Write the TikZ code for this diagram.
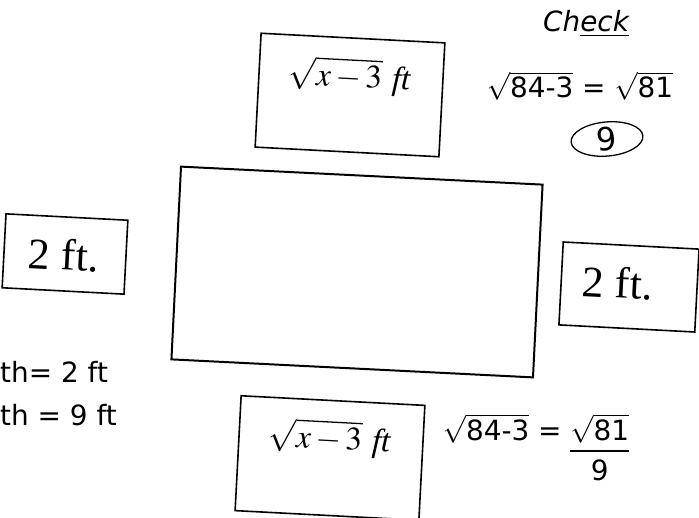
\documentclass[tikz,border=0pt]{standalone}
\usepackage{mathptmx}
\usepackage{fontspec}
\setmainfont{Liberation Serif}
\newfontfamily\handfont{DejaVu Sans}
\usetikzlibrary{shapes.geometric}
\newcommand{\hw}[1]{\hbox{#1}}

\begin{document}
\begin{tikzpicture}[x=1bp,y=-1bp,
  % Box styles
  side/.style={
    draw=black,
    line width=1.6pt,
    inner sep=0pt,
    rotate=-3,
  },
  plot/.style={
    draw=black,
    line width=2pt,
    inner sep=0pt,
    rotate=-2.85,
  },
  % Text styles
  measure/.style={font=\fontsize{44}{48}\selectfont, inner sep=0pt, rotate=-3},
  root/.style={font=\fontsize{33}{38}\selectfont, inner sep=0pt, rotate=-3},
  hand/.style={font=\handfont\fontsize{28}{32}\selectfont, inner sep=0pt},
]
  \useasboundingbox (0,0) rectangle (699,518);

  % Garden plot
  \node[plot, minimum width=362bp, minimum height=193bp] (garden) at (357,272) {};

  % Sides: top and bottom
  \node[side, minimum width=184bp, minimum height=114bp] (top side) at (350,95) {};
  \node[root] (top label) at (350,76) {$\sqrt{x-3}$\hspace{10bp}\textit{ft}};
  \node[side, minimum width=184bp, minimum height=115bp] (bottom side) at (330,458) {};
  \node[root] (bottom label) at (330,438) {$\sqrt{x-3}$\hspace{10bp}\textit{ft}};

  % Sides: left and right
  \node[side, minimum width=122bp, minimum height=74bp] (left side) at (65,254) {};
  \node[measure] (left label) at (64,255) {2 ft.};
  \node[side, minimum width=136bp, minimum height=83bp] (right side) at (629,287) {};
  \node[measure] (right label) at (618,283) {2 ft.};

  % Check
  \node[hand, font={\handfont\itshape\fontsize{28}{32}\selectfont}] (check) at (586,24) {Ch\underline{eck}};
  \node[hand] (top check) at (580,86) {$\sqrt{\hw{84-3}}$ = $\sqrt{\hw{81}}$};
  \node[hand, draw, ellipse, line width=1.3pt, minimum width=72bp, minimum height=34bp,
        rotate=5, font={\handfont\fontsize{32}{34}\selectfont}] (nine) at (607,139) {9};
  \node[hand] (bottom check) at (536,452) {\setlength\arrayrulewidth{1.5pt}%
    \begin{tabular}{@{}r@{ }c@{}}
      $\sqrt{\hw{84-3}}$ = & $\sqrt{\hw{81}}$\\ \cline{2-2}
      & \rule{0pt}{30bp}9
    \end{tabular}};

  % Width and length
  \node[hand, anchor=west] (width) at (0,372) {th= 2 ft};
  \node[hand, anchor=west] (length) at (0,415) {th = 9 ft};

\end{tikzpicture}
\end{document}
